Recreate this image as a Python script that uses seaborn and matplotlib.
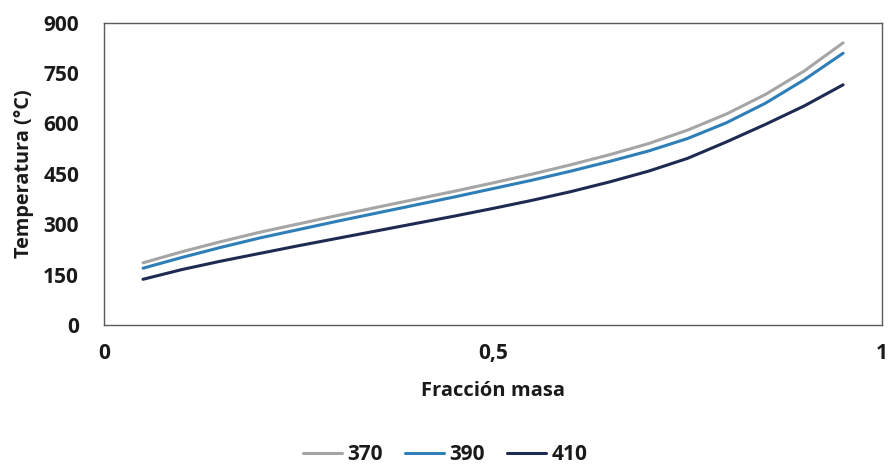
import matplotlib
matplotlib.use("Agg")
import matplotlib.pyplot as plt
import seaborn as sns
import pandas as pd

# Mass fraction (x) and temperature curves for each series
fraccion = [0.05, 0.10, 0.15, 0.20, 0.25, 0.30, 0.35, 0.40, 0.45, 0.50,
            0.55, 0.60, 0.65, 0.70, 0.75, 0.80, 0.85, 0.90, 0.95]
temp_370 = [185, 218, 248, 276, 301, 326, 350, 374, 398, 423,
            449, 477, 507, 540, 580, 628, 686, 756, 840]
temp_390 = [169, 201, 231, 259, 284, 309, 333, 357, 381, 406,
            431, 458, 487, 518, 555, 602, 660, 730, 809]
temp_410 = [136, 165, 190, 213, 236, 258, 280, 302, 324, 347,
            371, 397, 426, 458, 496, 545, 597, 652, 715]
series_names = ["370", "390", "410"]
colors = ["#A5A5A5", "#2E7EB8", "#1E2A52"]

y_ticks = [0, 150, 300, 450, 600, 750, 900]
x_ticks = [0, 0.5, 1]
x_ticklabels = ["0", "0,5", "1"]

df = pd.DataFrame({
    "Fracción masa": fraccion * 3,
    "Temperatura": temp_370 + temp_390 + temp_410,
    "Serie": [s for s in series_names for _ in fraccion],
})

sns.set_theme(style="white")
plt.rcParams["font.family"] = ["Open Sans", "DejaVu Sans"]

fig = plt.figure(figsize=(8.9, 4.68), dpi=100)
ax = fig.add_axes([0.117, 0.3056, 0.874, 0.646])

sns.lineplot(data=df, x="Fracción masa", y="Temperatura", hue="Serie",
             palette=dict(zip(series_names, colors)), linewidth=2.2,
             ax=ax, legend=False)

ax.set_xlim(0, 1)
ax.set_ylim(0, 900)
ax.set_yticks(y_ticks)
ax.set_xticks(x_ticks)
ax.set_xticklabels(x_ticklabels)
ax.tick_params(axis="both", length=0, labelsize=15, colors="#1a1a1a")
ax.tick_params(axis="x", pad=13)
ax.tick_params(axis="y", pad=18)
for lbl in ax.get_xticklabels() + ax.get_yticklabels():
    lbl.set_fontweight("bold")

for sp in ax.spines.values():
    sp.set_visible(True)
    sp.set_color("#5A5A5A")
    sp.set_linewidth(1.0)

ax.set_xlabel("Fracción masa", fontsize=14.5, fontweight="bold",
              color="#1a1a1a", labelpad=12)
ax.set_ylabel("Temperatura (°C)", fontsize=14.3, fontweight="bold",
              color="#1a1a1a", labelpad=7)

handles = [plt.Line2D([], [], color=c, lw=2.2) for c in colors]
leg = fig.legend(handles, series_names, loc="center", bbox_to_anchor=(0.5, 0.028),
                 ncol=3, frameon=False, handlelength=1.9, handletextpad=0.25,
                 columnspacing=1.05, prop={"size": 15, "weight": "bold"})
for t in leg.get_texts():
    t.set_color("#1a1a1a")

fig.savefig("out.png", dpi=100)
